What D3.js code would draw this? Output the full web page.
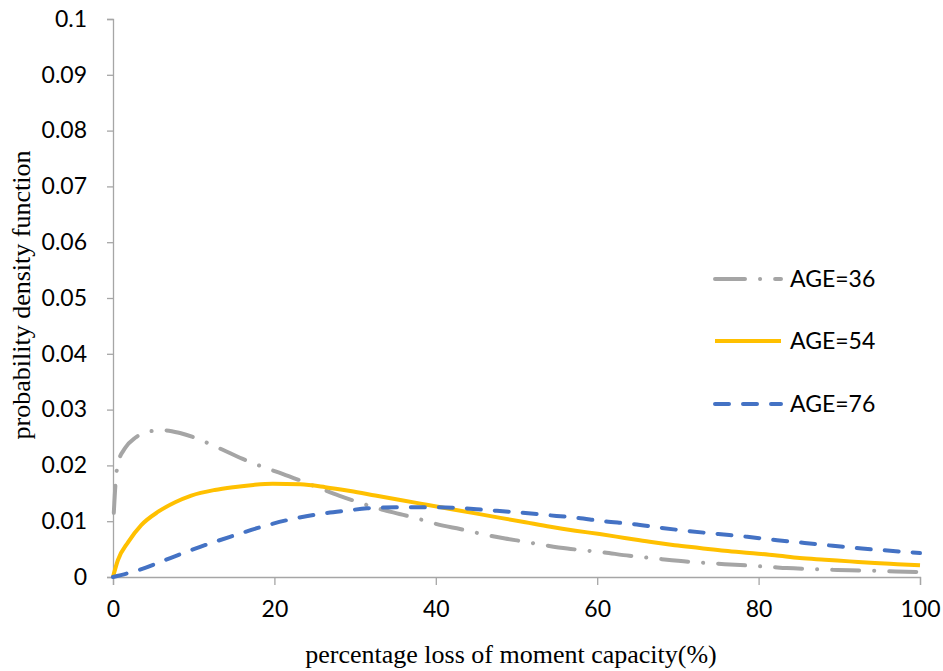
<!DOCTYPE html>
<html><head><meta charset="utf-8">
<script src="https://cdn.jsdelivr.net/npm/d3@7"></script>
<style>body{margin:0;background:#fff}svg{display:block}</style>
</head><body>
<script>
const xTicks = [0, 20, 40, 60, 80, 100];
const yTicks = [0, 0.01, 0.02, 0.03, 0.04, 0.05, 0.06, 0.07, 0.08, 0.09, 0.1];
const seriesNames = ["AGE=36", "AGE=54", "AGE=76"];

const age36X = [0.1, 0.3, 0.6, 1.5, 2.8, 4.2, 6.2, 8.3, 11.6, 13.6, 16, 19, 21, 23.2, 26, 28, 30, 33.3, 35.5, 37.4, 40.9, 43, 45.1, 48.6, 50.7, 52.7, 56.3, 58.2, 60.3, 64, 66, 68, 71.7, 73.7, 75.8, 79.3, 81.5, 83.5, 87.2, 89.2, 91.3, 95, 97, 100];
const age36Y = [0.0115, 0.0165, 0.0203, 0.0231, 0.0250, 0.0260, 0.0263, 0.0258, 0.0241, 0.0228, 0.0212, 0.0195, 0.0185, 0.0173, 0.0157, 0.0146, 0.0136, 0.0121, 0.0113, 0.0106, 0.0092, 0.0086, 0.0079, 0.0069, 0.0064, 0.0059, 0.0051, 0.0048, 0.0045, 0.0038, 0.0035, 0.0032, 0.0027, 0.0025, 0.0023, 0.0020, 0.0018, 0.0016, 0.0014, 0.0013, 0.0012, 0.0011, 0.0010, 0.0009];

const age54X = [0, 0.6, 1.9, 3.5, 5.6, 7.7, 9.7, 12.6, 14.9, 17.4, 19.8, 23.2, 26.3, 29.4, 32.5, 35.6, 38.7, 41.8, 44.9, 48, 51.1, 54.2, 57.3, 60.3, 63.4, 66.5, 69.6, 72.7, 75.8, 78.9, 82, 85.1, 88.2, 91.3, 94.4, 97.2, 100];
const age54Y = [0, 0.0030, 0.0063, 0.0093, 0.0117, 0.0134, 0.0146, 0.0156, 0.0161, 0.0165, 0.0167, 0.0166, 0.0161, 0.0154, 0.0146, 0.0138, 0.0130, 0.0122, 0.0114, 0.0106, 0.0098, 0.0090, 0.0083, 0.0077, 0.0070, 0.0063, 0.0057, 0.0052, 0.0047, 0.0043, 0.0039, 0.0034, 0.0031, 0.0028, 0.0025, 0.0023, 0.0021];

const age76X = [0, 3.3, 7.1, 10.8, 14.5, 18.2, 21.9, 25.7, 29, 31.5, 35.6, 39.3, 42.6, 46.3, 50, 53.8, 57.5, 60.7, 64.4, 68, 71.5, 75, 78.6, 82.3, 85.7, 89.2, 92.8, 96.3, 100];
const age76Y = [0, 0.0013, 0.0034, 0.0054, 0.0072, 0.0089, 0.0103, 0.0113, 0.0119, 0.0123, 0.0125, 0.0125, 0.0124, 0.0120, 0.0116, 0.0111, 0.0106, 0.0100, 0.0095, 0.0088, 0.0082, 0.0077, 0.0072, 0.0066, 0.0061, 0.0056, 0.0051, 0.0047, 0.0043];

const W = 943, H = 671;
const svg = d3.select("body").append("svg").attr("width", W).attr("height", H);
const x = d3.scaleLinear().domain([0, 100]).range([113, 920]);
const y = d3.scaleLinear().domain([0, 0.1]).range([577, 19]);
const axisColor = "#a6a6a6";
const tickFont = "Lato, 'Open Sans', sans-serif";
const serif = "'Liberation Serif', 'Times New Roman', serif";

// y axis
const yAxis = svg.append("g").attr("transform", "translate(113,0)")
  .call(d3.axisLeft(y).tickValues(yTicks).tickSize(6).tickPadding(20)
    .tickFormat(d => d3.format("")(+d.toFixed(2))));
yAxis.select(".domain").attr("stroke", axisColor).attr("stroke-width", 1.3);
yAxis.selectAll(".tick line").attr("stroke", axisColor).attr("stroke-width", 1.3);
yAxis.selectAll(".tick text").attr("fill", "#000").style("font-family", tickFont).style("font-size", "23px");

// x axis
const xAxis = svg.append("g").attr("transform", "translate(0,577)")
  .call(d3.axisBottom(x).tickValues(xTicks).tickSize(8).tickPadding(16));
xAxis.select(".domain").attr("stroke", axisColor).attr("stroke-width", 1.3);
xAxis.selectAll(".tick line").attr("stroke", axisColor).attr("stroke-width", 1.3);
xAxis.selectAll(".tick text").attr("fill", "#000").style("font-family", tickFont).style("font-size", "23px");

// titles
svg.append("text").attr("x", 511).attr("y", 663).attr("text-anchor", "middle")
  .style("font-family", serif).style("font-size", "26px")
  .text("percentage loss of moment capacity(%)");
svg.append("text").attr("transform", "translate(30,295) rotate(-90)").attr("text-anchor", "middle")
  .style("font-family", serif).style("font-size", "26px")
  .text("probability density function");

const styles = [
  {color: "#a5a5a5", dash: "27,15,0.1,15"},
  {color: "#ffc000", dash: null},
  {color: "#4472c4", dash: "14,14"}
];
const seriesData = [
  age36X.map((v, i) => [v, age36Y[i]]),
  age54X.map((v, i) => [v, age54Y[i]]),
  age76X.map((v, i) => [v, age76Y[i]])
];
const line = d3.line().x(d => x(d[0])).y(d => y(d[1])).curve(d3.curveMonotoneX);
[0, 1, 2].forEach(i => {
  const p = svg.append("path").datum(seriesData[i]).attr("d", line)
    .attr("fill", "none").attr("stroke", styles[i].color).attr("stroke-width", 4)
    .attr("stroke-linecap", styles[i].dash ? "round" : "butt");
  if (styles[i].dash) p.attr("stroke-dasharray", styles[i].dash);
});

// legend
const legendY = [279, 341, 404];
seriesNames.forEach((name, i) => {
  const l = svg.append("line").attr("x1", 715).attr("x2", 781).attr("y1", legendY[i]).attr("y2", legendY[i])
    .attr("stroke", styles[i].color).attr("stroke-width", 4)
    .attr("stroke-linecap", styles[i].dash ? "round" : "butt");
  if (i === 0) l.attr("stroke-dasharray", "30,15,0.1,15");
  if (i === 2) l.attr("stroke-dasharray", "14,14");
  svg.append("text").attr("x", 790).attr("y", legendY[i]).attr("dy", "0.35em")
    .style("font-family", tickFont).style("font-size", "23px").text(name);
});
</script>
</body></html>
